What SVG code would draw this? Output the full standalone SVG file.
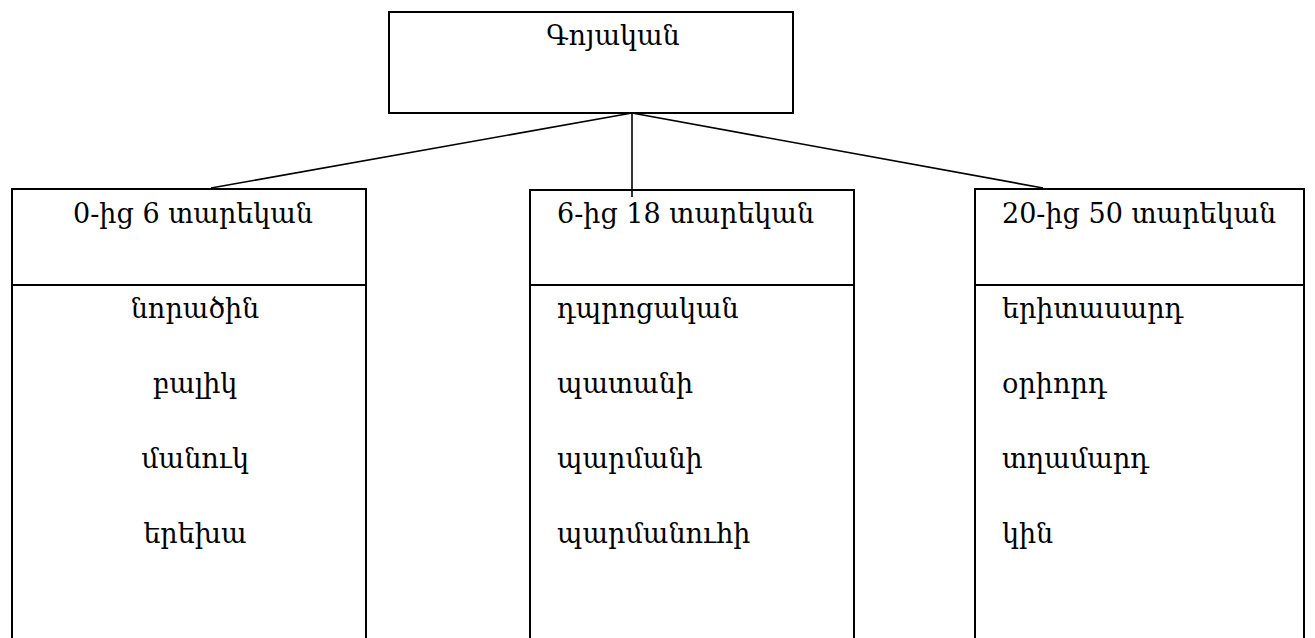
<svg xmlns="http://www.w3.org/2000/svg" width="1315" height="638" viewBox="0 0 1315 638">
<style>
  .box { fill: #fff; stroke: #000; stroke-width: 2; }
  .div { stroke: #000; stroke-width: 2; }
  .conn { stroke: #000; stroke-width: 1.6; fill: none; }
  text { font-family: "DejaVu Serif", "Liberation Serif", serif; font-size: 27px; fill: #000; }
  .c { text-anchor: middle; }
</style>
<rect width="1315" height="638" fill="#fff"/>
<g id="connectors">
  <line class="conn" x1="632" y1="113" x2="211" y2="188"/>
  <line class="conn" x1="632" y1="113" x2="1043" y2="188"/>
</g>
<g id="root">
  <rect class="box" x="389" y="12" width="404" height="101"/>
  <text class="c" x="613" y="45">Գոյական</text>
</g>
<g id="col1">
  <rect class="box" x="12" y="189" width="354" height="460"/>
  <line class="div" x1="12" y1="285" x2="366" y2="285"/>
  <text class="c" x="193" y="223">0-ից 6 տարեկան</text>
  <text class="c" x="195" y="318">նորածին</text>
  <text class="c" x="195" y="393">բալիկ</text>
  <text class="c" x="195" y="468">մանուկ</text>
  <text class="c" x="195" y="543">երեխա</text>
</g>
<g id="col2">
  <rect class="box" x="530" y="190" width="324" height="460"/>
  <line class="div" x1="530" y1="285" x2="854" y2="285"/>
  <text x="557" y="223">6-ից 18 տարեկան</text>
  <text x="557" y="318">դպրոցական</text>
  <text x="557" y="393">պատանի</text>
  <text x="557" y="468">պարմանի</text>
  <text x="557" y="543">պարմանուհի</text>
</g>
<g id="col3">
  <rect class="box" x="975" y="189" width="329" height="460"/>
  <line class="div" x1="975" y1="285" x2="1304" y2="285"/>
  <text x="1002" y="223">20-ից 50 տարեկան</text>
  <text x="1002" y="318">երիտասարդ</text>
  <text x="1002" y="393">օրիորդ</text>
  <text x="1002" y="468">տղամարդ</text>
  <text x="1002" y="543">կին</text>
</g>
<g id="connectors-top">
  <line class="conn" x1="632" y1="113" x2="632" y2="197"/>
</g>
</svg>
